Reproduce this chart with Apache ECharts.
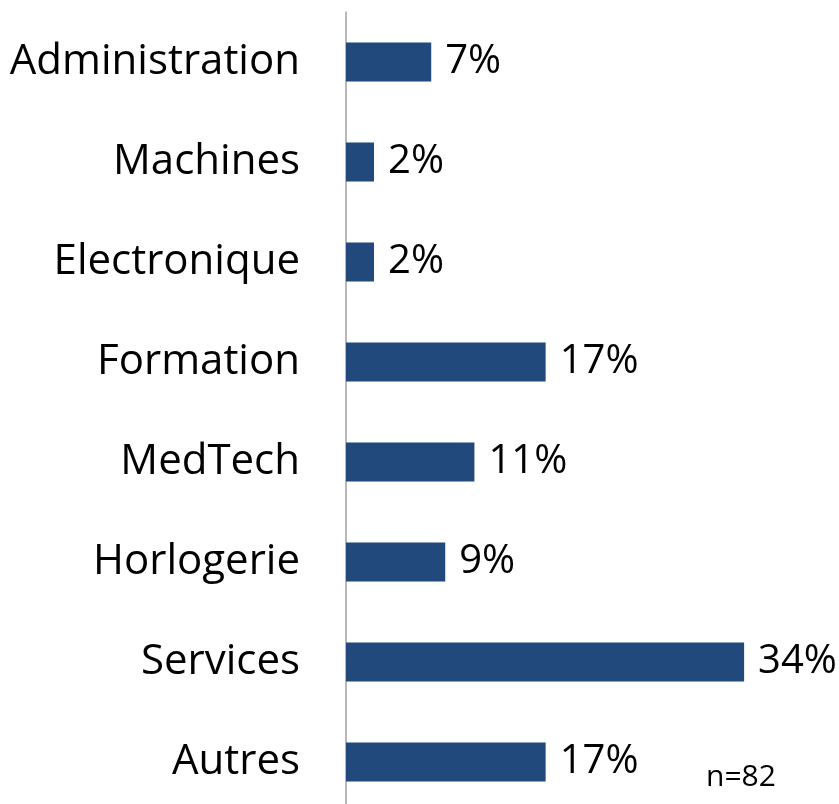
<!DOCTYPE html>
<html>
<head>
<meta charset="utf-8">
<script src="https://cdn.jsdelivr.net/npm/echarts@6/dist/echarts.min.js"></script>
<style>
  html, body { margin: 0; padding: 0; background: #fff; overflow: hidden; height: 804px; }
  #chart { width: 839px; height: 812px; }
</style>
</head>
<body>
<div id="chart"></div>
<script>
// secteurs (n=82)
var categories = ['Administration', 'Machines', 'Electronique', 'Formation', 'MedTech', 'Horlogerie', 'Services', 'Autres']
var shares = [7.3, 2.4, 2.4, 17.1, 11.0, 8.5, 34.1, 17.1]
var shareLabels = ['7%', '2%', '2%', '17%', '11%', '9%', '34%', '17%']
var sampleNote = 'n=82'

var myChart = echarts.init(document.getElementById('chart'))

var option = {
    animation: false,
    backgroundColor: '#fff',
    grid: {
        left: 346,
        right: 26,
        top: 12,
        bottom: 0
    },
    xAxis: {
        type: 'value',
        min: 0,
        max: 40,
        show: false
    },
    yAxis: {
        type: 'category',
        inverse: true,
        data: categories,
        axisLine: {
            show: true,
            lineStyle: { color: '#a0a0a0', width: 1.5 }
        },
        axisTick: { show: false },
        axisLabel: {
            margin: 46,
            fontFamily: 'Open Sans',
            fontSize: 42,
            color: '#000'
        }
    },
    series: [{
        type: 'bar',
        data: shares,
        barWidth: 39,
        itemStyle: {
            color: '#22497b'
        },
        label: {
            show: true,
            position: 'right',
            distance: 14,
            fontFamily: 'Open Sans',
            fontSize: 40,
            color: '#000',
            formatter: function (p) {
                return shareLabels[p.dataIndex]
            }
        }
    }],
    graphic: [{
        type: 'text',
        left: 706,
        top: 762,
        style: {
            text: sampleNote,
            fontFamily: 'Open Sans',
            fontSize: 30,
            fill: '#000'
        }
    }]
}

myChart.setOption(option)
</script>
</body>
</html>
